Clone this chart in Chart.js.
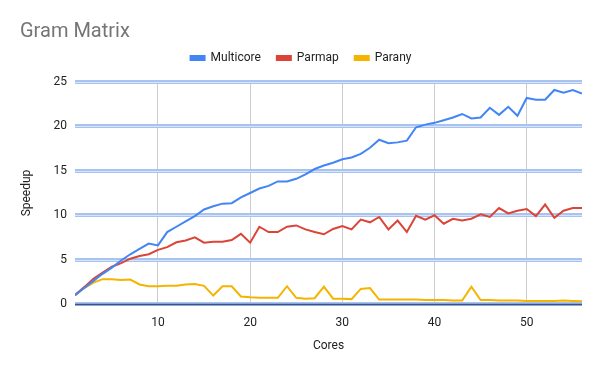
<!DOCTYPE html>
<html>
<head>
<meta charset="utf-8">
<script src="https://cdn.jsdelivr.net/npm/chart.js@4/dist/chart.umd.min.js"></script>
<style>
  html, body { margin: 0; padding: 0; background: #fff; }
  #wrap { width: 600px; height: 371px; }
</style>
</head>
<body>
<div id="wrap"><canvas id="gramChart"></canvas></div>
<script>
// cores 1..56
var cores = [];
for (var c = 1; c <= 56; c++) cores.push(c);

var multicore = [1.0, 1.8, 2.6, 3.4, 4.1, 4.9, 5.6, 6.2, 6.8, 6.6,
    8.1, 8.7, 9.3, 9.9, 10.65, 11.0, 11.3, 11.35, 12.0, 12.5,
    13.0, 13.3, 13.8, 13.8, 14.1, 14.6, 15.2, 15.6, 15.9, 16.3,
    16.5, 16.9, 17.6, 18.5, 18.1, 18.2, 18.4, 19.9, 20.2, 20.4,
    20.7, 21.0, 21.4, 20.9, 21.0, 22.1, 21.3, 22.2, 21.2, 23.2,
    23.0, 23.0, 24.1, 23.8, 24.1, 23.7];

var parmap = [1.0, 1.9, 2.85, 3.55, 4.2, 4.6, 5.1, 5.4, 5.6, 6.1,
    6.4, 6.95, 7.15, 7.5, 6.9, 7.0, 7.0, 7.2, 7.9, 6.9,
    8.7, 8.1, 8.1, 8.7, 8.85, 8.4, 8.1, 7.85, 8.45, 8.78,
    8.4, 9.5, 9.2, 9.8, 8.4, 9.4, 8.1, 9.94, 9.5, 9.99,
    9.04, 9.6, 9.4, 9.6, 10.1, 9.8, 10.8, 10.2, 10.5, 10.7,
    9.9, 11.2, 9.7, 10.5, 10.8, 10.8];

var parany = [1.0, 1.8, 2.4, 2.8, 2.8, 2.7, 2.75, 2.2, 2.0, 2.0,
    2.05, 2.05, 2.2, 2.25, 2.05, 0.95, 2.0, 2.0, 0.85, 0.75,
    0.7, 0.7, 0.7, 2.0, 0.7, 0.6, 0.65, 1.95, 0.6, 0.6,
    0.55, 1.7, 1.8, 0.5, 0.5, 0.5, 0.5, 0.5, 0.45, 0.45,
    0.45, 0.4, 0.4, 1.95, 0.45, 0.45, 0.4, 0.4, 0.4, 0.35,
    0.35, 0.35, 0.35, 0.4, 0.35, 0.3];

var xTicks = [10, 20, 30, 40, 50];
var yTicks = [0, 5, 10, 15, 20, 25];

function pts(arr) {
    return cores.map((x, i) => ({ x: x, y: arr[i] }));
}

// thin centre line on top of the wide blue grid bands
var bandLines = {
    id: 'bandLines',
    beforeDatasetsDraw: function(chart) {
        var ctx = chart.ctx, y = chart.scales.y, area = chart.chartArea;
        ctx.save();
        yTicks.forEach(function(v) {
            var py = Math.round(y.getPixelForValue(v)) + 0.5;
            ctx.strokeStyle = v === 0 ? '#3b5282' : '#d8e4f9';
            ctx.lineWidth = v === 0 ? 1.5 : 1;
            ctx.beginPath();
            ctx.moveTo(area.left, py);
            ctx.lineTo(area.right, py);
            ctx.stroke();
        });
        ctx.restore();
    }
};

// empty box between legend and plot, just for spacing
var legendGap = {
    id: 'legendGap',
    beforeInit: function(chart) {
        var box = {
            position: 'top',
            weight: 500,
            fullSize: true,
            options: {},
            height: 8,
            width: 0,
            isHorizontal: function() { return true; },
            update: function(maxW) { this.width = maxW; this.height = 8; },
            draw: function() {}
        };
        Chart.layouts.addBox(chart, box);
    }
};

var ctx = document.getElementById('gramChart').getContext('2d');
var gramChart = new Chart(ctx, {
    type: 'line',
    data: {
        datasets: [{
                label: 'Multicore',
                data: pts(multicore),
                borderColor: '#4285f4',
                backgroundColor: '#4285f4'
            },
            {
                label: 'Parmap',
                data: pts(parmap),
                borderColor: '#db4437',
                backgroundColor: '#db4437'
            },
            {
                label: 'Parany',
                data: pts(parany),
                borderColor: '#f4b400',
                backgroundColor: '#f4b400'
            }
        ]
    },
    plugins: [bandLines, legendGap],
    options: {
        responsive: true,
        maintainAspectRatio: false,
        animation: false,
        layout: { padding: { left: 20, right: 18, top: 28, bottom: 18 } },
        elements: {
            line: { borderWidth: 2, tension: 0 },
            point: { radius: 0 }
        },
        plugins: {
            title: {
                display: true,
                text: 'Gram Matrix',
                align: 'start',
                color: '#757575',
                font: { family: 'Roboto', size: 20, weight: 'normal', lineHeight: 0.4 },
                padding: { top: 0, bottom: 0 }
            },
            legend: {
                position: 'top',
                labels: {
                    color: '#222',
                    font: { family: 'Roboto', size: 12 },
                    boxWidth: 14,
                    boxHeight: 4,
                    padding: 16
                }
            },
            tooltip: { enabled: false }
        },
        scales: {
            x: {
                type: 'linear',
                min: 1,
                max: 56,
                afterBuildTicks: function(s) { s.ticks = xTicks.map(v => ({ value: v })); },
                afterFit: function(s) { s.height = 49; },
                grid: { color: '#cccccc', lineWidth: 1, drawTicks: false },
                border: { display: false },
                ticks: {
                    color: '#222',
                    font: { family: 'Roboto', size: 12 },
                    padding: 12,
                    maxRotation: 0
                },
                title: {
                    display: true,
                    text: 'Cores',
                    color: '#222',
                    font: { family: 'Roboto', size: 12 },
                    padding: { top: 14, bottom: 0 }
                }
            },
            y: {
                min: 0,
                max: 25,
                afterBuildTicks: function(s) { s.ticks = yTicks.map(v => ({ value: v })); },
                afterFit: function(s) { s.width = 55; },
                grid: { color: '#a9c3f0', lineWidth: 4, drawTicks: false },
                border: { display: false },
                ticks: {
                    color: '#222',
                    font: { family: 'Roboto', size: 12 },
                    padding: 8
                },
                title: {
                    display: true,
                    text: 'Speedup',
                    color: '#222',
                    font: { family: 'Roboto', size: 12 },
                    padding: { top: 0, bottom: 4 }
                }
            }
        }
    }
});
</script>
</body>
</html>
